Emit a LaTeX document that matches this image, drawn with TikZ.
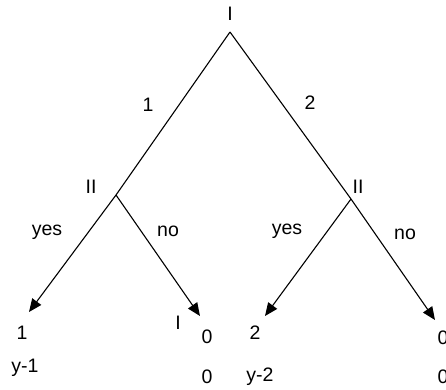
\documentclass[tikz,border=0pt]{standalone}
\usepackage{fontspec}
\setmainfont{Liberation Sans}
\usetikzlibrary{arrows.meta}
\begin{document}
\begin{tikzpicture}[x=1pt,y=-1pt,
  edge/.style={line width=1.1pt},
  arr/.style={edge,-{Triangle[length=13pt,width=11pt]}},
  lbl/.style={inner sep=0pt,font=\fontsize{19.5}{22}\selectfont}]
\useasboundingbox (0,0) rectangle (446,389);
\coordinate (r) at (230,32);
\coordinate (a) at (116,195);
\coordinate (b) at (351,199);
\coordinate (aa) at (29,312);
\coordinate (ab) at (200,316);
\coordinate (ba) at (265,316);
\coordinate (bb) at (435,320);
\draw[edge] (r) -- (a);
\draw[edge] (r) -- (b);
\draw[arr] (a) -- (aa);
\draw[arr] (a) -- (ab);
\draw[arr] (b) -- (ba);
\draw[arr] (b) -- (bb);
\node[lbl] (tI) at (230,14) {I};
\node[lbl] (t1) at (148,105) {1};
\node[lbl] (t2) at (310,103) {2};
\node[lbl] (tIIa) at (91,187) {II};
\node[lbl] (tIIb) at (358,187) {II};
\node[lbl] (ya) at (47,232) {yes};
\node[lbl] (na) at (168,231) {no};
\node[lbl] (yb) at (287,231) {yes};
\node[lbl] (nb) at (405,234) {no};
\node[lbl] (p1) at (22,333) {1};
\node[lbl] (q1) at (25,368) {y-1};
\node[lbl] (pI) at (178,323) {I};
\node[lbl] (p2) at (207,337) {0};
\node[lbl] (q2) at (207,377) {0};
\node[lbl] (p3) at (255,333) {2};
\node[lbl] (q3) at (260,377) {y-2};
\node[lbl] (p4) at (443,338) {0};
\node[lbl] (q4) at (443,377) {0};
\end{tikzpicture}
\end{document}
